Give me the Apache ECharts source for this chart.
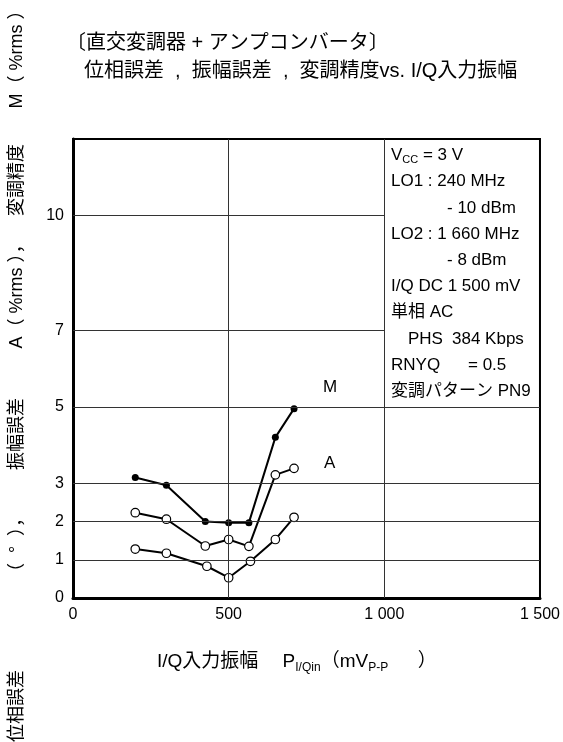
<!DOCTYPE html>
<html>
<head>
<meta charset="utf-8">
<script src="https://cdn.jsdelivr.net/npm/echarts@6/dist/echarts.min.js"></script>
<style>
	html, body { margin: 0; padding: 0; background: #fff; }
	#chart { width: 563px; height: 742px; }
</style>
</head>
<body>
<div id="chart"></div>
<script>
// 横軸: I/Q入力振幅 (mVp-p)
let x_m = [200, 300, 425, 500, 565, 650, 710];
let y_m = [3.15, 2.95, 2.0, 1.97, 1.97, 4.2, 4.95]; // 変調精度 M
let x_a = [200, 300, 425, 500, 565, 650, 710];
let y_a = [2.23, 2.06, 1.36, 1.53, 1.35, 3.22, 3.39]; // 振幅誤差 A
let x_p = [200, 300, 430, 500, 570, 650, 710];
let y_p = [1.28, 1.17, 0.83, 0.53, 0.96, 1.53, 2.11]; // 位相誤差

let y_ticks = [0, 1, 2, 3, 5, 7, 10];
let y_grid_full = [1, 2, 3, 5]; // 全幅
let y_grid_half = [7, 10]; // 0〜1000 のみ
let x_grid = [500, 1000];
let x_ticks = [0, 500, 1000, 1500];

let font = '"Liberation Sans", Arial, "Noto Sans CJK JP", sans-serif';

let pairs = (xs, ys) => xs.map((v, i) => [v, ys[i]]);

// グリッド線
let grid_lines = [];
for (let v of x_grid) grid_lines.push([{ coord: [v, 0] }, { coord: [v, 12] }]);
for (let v of y_grid_full) grid_lines.push([{ coord: [0, v] }, { coord: [1500, v] }]);
for (let v of y_grid_half) grid_lines.push([{ coord: [0, v] }, { coord: [1000, v] }]);

let open_dot = { color: '#fff', borderColor: '#000', borderWidth: 1.2 };

let chart = echarts.init(document.getElementById('chart'));
let option = {
	animation: false,
	backgroundColor: '#fff',
	grid: { left: 73, right: 23, top: 139, bottom: 144, show: true, borderColor: '#000', borderWidth: 2 },
	xAxis: {
		type: 'value',
		min: 0,
		max: 1500,
		interval: 500,
		axisLine: { lineStyle: { color: '#000', width: 3 } },
		axisTick: { show: false },
		splitLine: { show: false },
		axisLabel: {
			color: '#000',
			fontSize: 16,
			fontFamily: font,
			margin: 9,
			formatter: (v) => (x_ticks.includes(v) ? (v >= 1000 ? `${Math.floor(v / 1000)} ${String(v % 1000).padStart(3, '0')}` : `${v}`) : ''),
		},
	},
	yAxis: {
		type: 'value',
		min: 0,
		max: 12,
		interval: 1,
		axisLine: { lineStyle: { color: '#000', width: 3 } },
		axisTick: { show: false },
		splitLine: { show: false },
		axisLabel: {
			color: '#000',
			fontSize: 16,
			fontFamily: font,
			margin: 9,
			formatter: (v) => (y_ticks.includes(v) ? `${v}` : ''),
		},
	},
	series: [
		{
			type: 'line',
			data: [],
			silent: true,
			z: 1,
			markLine: {
				silent: true,
				symbol: 'none',
				label: { show: false },
				lineStyle: { color: '#333', width: 1, type: 'solid' },
				data: grid_lines,
			},
		},
		{
			name: 'M',
			type: 'line',
			data: pairs(x_m, y_m),
			z: 3,
			symbol: 'circle',
			symbolSize: 7,
			lineStyle: { color: '#000', width: 2 },
			itemStyle: { color: '#000' },
		},
		{
			name: 'A',
			type: 'line',
			data: pairs(x_a, y_a),
			z: 3,
			symbol: 'circle',
			symbolSize: 8.5,
			lineStyle: { color: '#000', width: 2 },
			itemStyle: open_dot,
		},
		{
			name: '位相誤差',
			type: 'line',
			data: pairs(x_p, y_p),
			z: 3,
			symbol: 'circle',
			symbolSize: 8.5,
			lineStyle: { color: '#000', width: 2 },
			itemStyle: open_dot,
		},
	],
	graphic: [],
};

// 条件ボックスの文字 [行, 文字, 左端]
let info_items = [
	[0, '{t|V}{s|CC}{t| = 3 V}', 391],
	[1, '{t|LO1 : 240 MHz}', 391],
	[2, '{t|- 10 dBm}', 447],
	[3, '{t|LO2 : 1 660 MHz}', 391],
	[4, '{t|- 8 dBm}', 447],
	[5, '{t|I/Q DC 1 500 mV}', 391],
	[6, '{t|単相 AC}', 391],
	[7, '{t|PHS}', 408],
	[7, '{t|384 Kbps}', 452],
	[8, '{t|RNYQ}', 391],
	[8, '{t|= 0.5}', 468],
	[9, '{t|変調パターン PN9}', 391],
];
let info_rich = {
	t: { fontSize: 17, fontFamily: font, color: '#000', lineHeight: 20 },
	s: { fontSize: 11, fontFamily: font, color: '#000', lineHeight: 20, verticalAlign: 'bottom', padding: [5, 0, 0, 0] },
};
for (let item of info_items) {
	option.graphic.push({
		type: 'text',
		left: item[2],
		top: 147 + item[0] * 26.2,
		style: { text: item[1], rich: info_rich },
	});
}

// 曲線名
option.graphic.push(
	{ type: 'text', left: 323, top: 379, style: { text: 'M', font: `17px ${font}`, fill: '#000' } },
	{ type: 'text', left: 324, top: 455, style: { text: 'A', font: `17px ${font}`, fill: '#000' } }
);

// タイトル
option.graphic.push(
	{ type: 'text', left: 66, top: 33, style: { text: '〔直交変調器 + アンプコンバータ〕', font: `20px ${font}`, fill: '#000' } },
	{ type: 'text', left: 84, top: 61, style: { text: '位相誤差  ,  振幅誤差  ,  変調精度vs. I/Q入力振幅', font: `20px ${font}`, fill: '#000' } }
);

// 横軸名
option.graphic.push({
	type: 'text',
	left: 157,
	top: 652,
	style: {
		text: '{t|I/Q入力振幅　 P}{s|I/Qin}{t|（mV}{s|P-P}{t|　  ）}',
		rich: {
			t: { fontSize: 19, fontFamily: font, color: '#000', lineHeight: 24 },
			s: { fontSize: 12, fontFamily: font, color: '#000', lineHeight: 24, verticalAlign: 'bottom', padding: [5, 0, 0, 0] },
		},
	},
});

// 縦軸名 (下から上へ)
let y_name_parts = [
	['位相誤差', 706],
	['（  °  ），', 545],
	['振幅誤差', 434],
	['A（ %rms ），', 292],
	['変調精度', 180],
	['M（ %rms ）', 55],
];
for (let p of y_name_parts) {
	option.graphic.push({
		type: 'text',
		x: 17,
		y: p[1],
		rotation: Math.PI / 2,
		style: { text: p[0], font: `18px ${font}`, fill: '#000', align: 'center', verticalAlign: 'middle' },
	});
}

chart.setOption(option);
window.addEventListener('resize', () => chart.resize());
</script>
</body>
</html>
